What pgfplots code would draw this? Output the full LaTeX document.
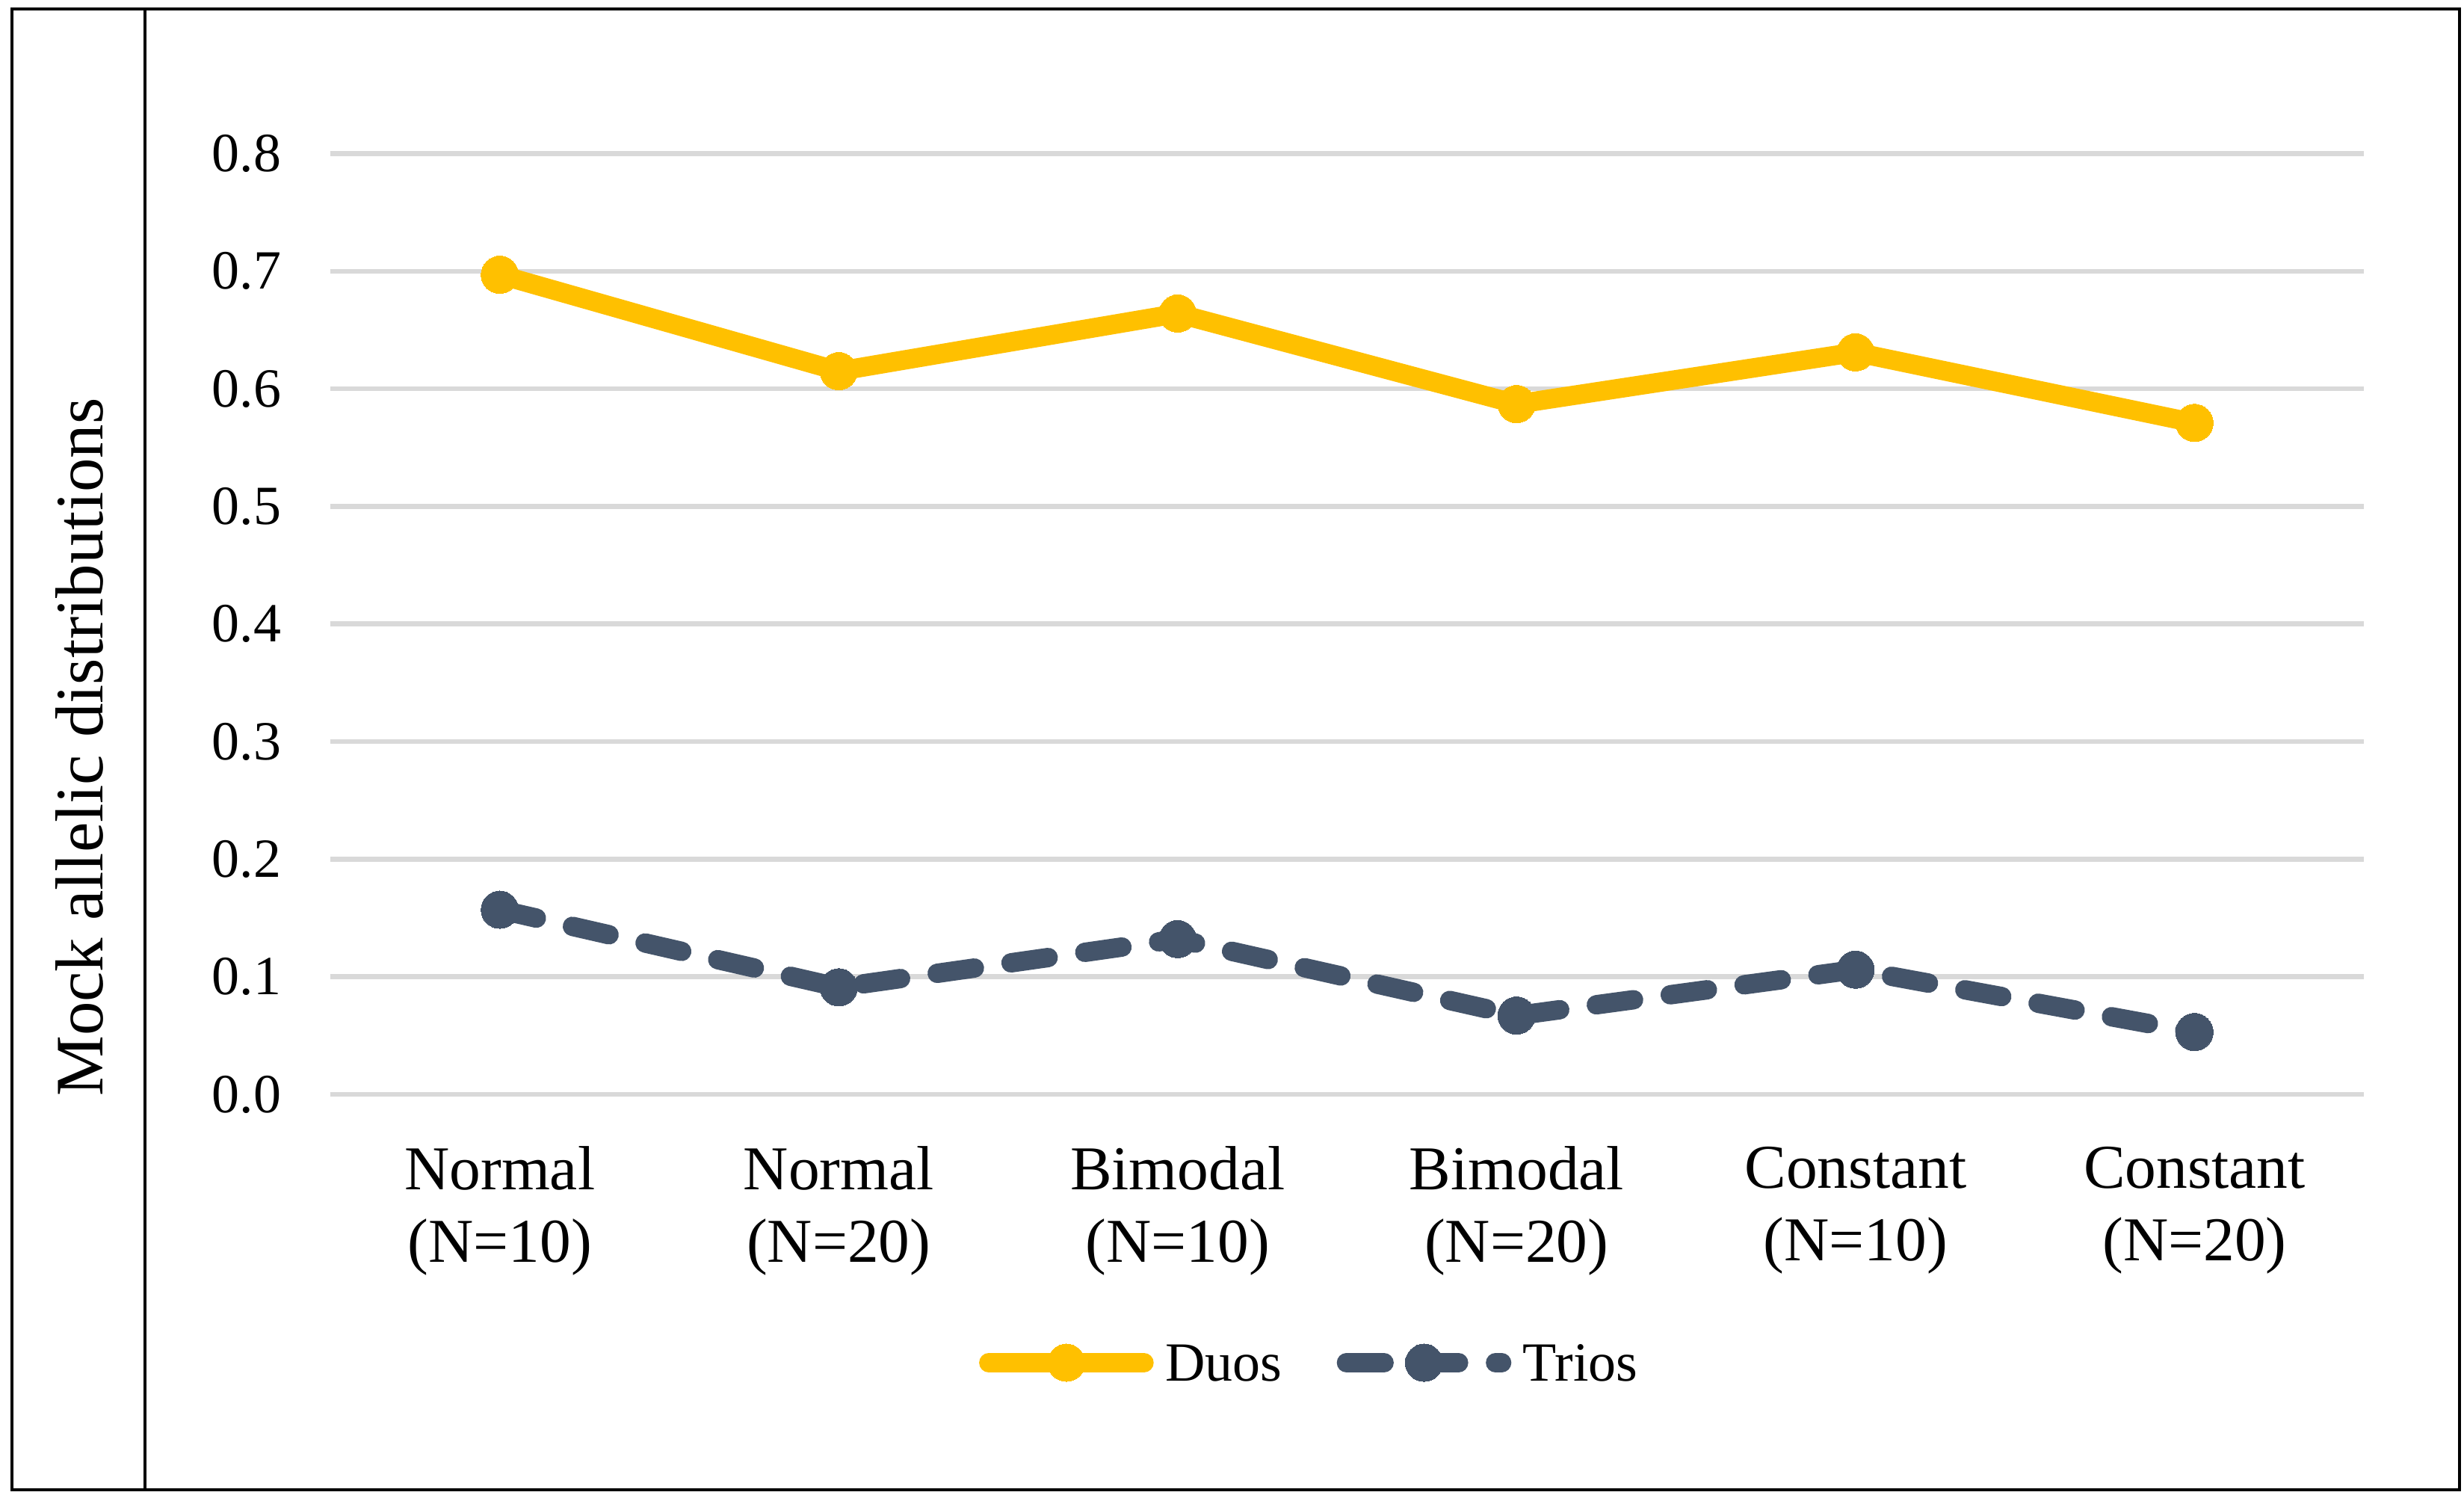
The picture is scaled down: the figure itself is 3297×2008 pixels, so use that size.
\documentclass[border=0pt]{standalone}
\usepackage{fontspec}
\setmainfont{Liberation Serif}
\usepackage{pgfplots}
\pgfplotsset{compat=1.18}

\definecolor{duos}{HTML}{FFC000}
\definecolor{trios}{HTML}{44546A}
\definecolor{gridgray}{HTML}{D9D9D9}

\begin{document}
% one unit = one pixel of the 3297x2008 reference, origin at the axis corner
\begin{tikzpicture}[x=0.1474pt,y=0.1474pt]
  \path[fill=white] (-442,-544) rectangle (2855,1464);
  \begin{axis}[
    at={(0,0)}, anchor=south west,
    scale only axis, width=401.1pt, height=185.5pt,
    xmin=-0.5, xmax=5.5, ymin=0, ymax=0.8,
    clip=false,
    axis line style={draw=none},
    major tick length=0pt,
    xtick={0,1,2,3,4,5},
    xticklabels={{Normal\\(N=10)},{Normal\\(N=20)},{Bimodal\\(N=10)},
                 {Bimodal\\(N=20)},{Constant\\(N=10)},{Constant\\(N=20)}},
    xticklabel style={font=\fontsize{12.3}{14.3}\selectfont, align=center,
                      anchor=north, inner sep=0pt, yshift=-10.1pt},
    ytick={0,0.1,0.2,0.3,0.4,0.5,0.6,0.7,0.8},
    yticklabel={\pgfmathprintnumber[fixed,fixed zerofill,precision=1,assume math mode=true]{\tick}},
    yticklabel style={font=\fontsize{10.9}{13}\selectfont, anchor=east,
                      inner sep=0pt, xshift=-9.51pt},
    ymajorgrids,
    major grid style={gridgray, line width=0.97pt},
    ylabel={Mock allelic distributions},
    ylabel style={at={(axis description cs:-0.1235,0.369)}, anchor=center,
                  font=\fontsize{13.4}{15}\selectfont},
    legend columns=2,
    legend style={draw=none, fill=none, at={(axis description cs:0.4675,-0.2853)},
                  anchor=center, inner sep=0pt, column sep=0pt,
                  nodes={inner sep=0pt, text depth=0pt},
                  font=\fontsize{10.9}{13}\selectfont},
    legend image code/.code={
      \path (-10.8pt,0pt) (32.9pt,0pt);
      \draw[mark repeat=2,mark phase=2,#1] plot coordinates {(0pt,0pt) (15.3pt,0pt) (30.6pt,0pt)};
    },
  ]
    \addplot[duos, line width=3.83pt, line join=round, line cap=round,
             mark=*, mark size=3.69pt, mark options={solid, line width=0pt}]
      coordinates {(0,0.697) (1,0.615) (2,0.664) (3,0.587) (4,0.631) (5,0.571)};
    \addlegendentry{Duos}
    \addplot[trios, line width=3.83pt, line join=round, line cap=round,
             dash pattern=on 7.4pt off 7.3pt,
             mark=*, mark size=3.69pt, mark options={solid, line width=0pt}]
      coordinates {(0,0.157) (1,0.091) (2,0.132) (3,0.067) (4,0.106) (5,0.053)};
    \addlegendentry{Trios}
  \end{axis}
  \draw[line width=0.7pt] (-426,-529) rectangle (2849,1452);
  \draw[line width=0.7pt] (-248,-529) -- (-248,1452);
  \pgfresetboundingbox
  \path (-442,-544) rectangle (2855,1464);
\end{tikzpicture}
\end{document}
